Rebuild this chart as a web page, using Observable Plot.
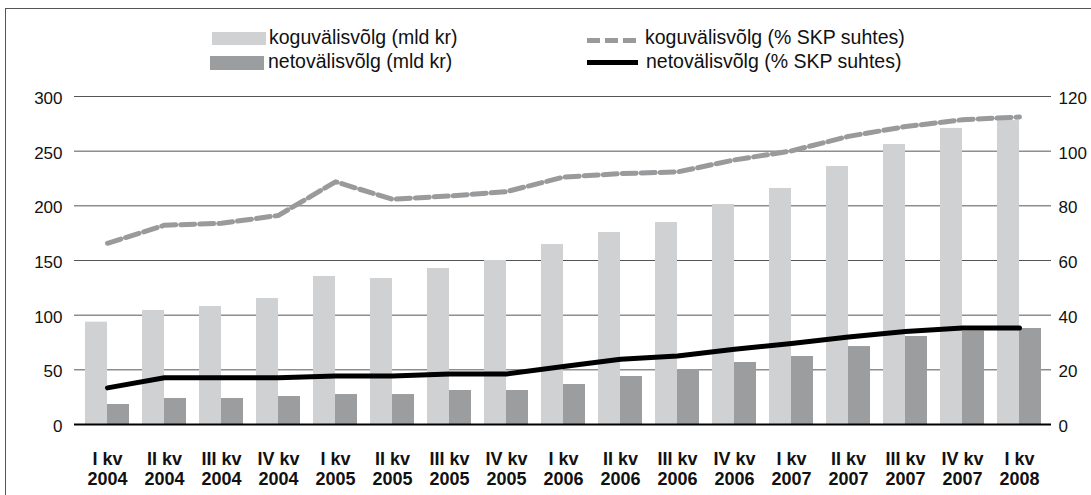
<!DOCTYPE html>
<html>
<head>
<meta charset="utf-8">
<script src="https://cdn.jsdelivr.net/npm/d3@7"></script>
<script src="https://cdn.jsdelivr.net/npm/@observablehq/plot@0.6"></script>
<style>
  html, body { margin: 0; padding: 0; background: #fff; overflow: hidden; }
  body { width: 1091px; height: 495px; position: relative; font-family: "Liberation Sans", Arial, sans-serif; }
  #frame { position: absolute; left: 5px; top: 8px; width: 1200px; height: 600px; border-left: 1.5px solid #555; border-top: 1.5px solid #555; }
  #chart { position: absolute; left: 0; top: 0; }
  .leg { position: absolute; font-size: 19.5px; color: #111; line-height: 1; white-space: nowrap; }
  .sw { position: absolute; }
</style>
</head>
<body>
<div id="frame"></div>
<div id="chart"></div>
<div class="sw" style="left:212px;top:32px;width:54px;height:13px;background:#d0d1d3"></div>
<div class="leg" style="left:269px;top:28px">koguvälisvõlg (mld kr)</div>
<div class="sw" style="left:210px;top:56px;width:54px;height:14px;background:#9c9d9f"></div>
<div class="leg" style="left:268px;top:52px">netovälisvõlg (mld kr)</div>
<div class="sw" style="left:587px;top:37.5px;width:49px;height:5px;background:repeating-linear-gradient(90deg,#999a9c 0 13px,transparent 13px 18px)"></div>
<div class="leg" style="left:645px;top:28px">koguvälisvõlg (% SKP suhtes)</div>
<div class="sw" style="left:587px;top:60px;width:51px;height:5px;background:#000"></div>
<div class="leg" style="left:646px;top:52px">netovälisvõlg (% SKP suhtes)</div>
<script>
const quarters = ["I kv","II kv","III kv","IV kv","I kv","II kv","III kv","IV kv","I kv","II kv","III kv","IV kv","I kv","II kv","III kv","IV kv","I kv"];
const years = ["2004","2004","2004","2004","2005","2005","2005","2005","2006","2006","2006","2006","2007","2007","2007","2007","2008"];
const koguMld = [93.6,104.3,107.9,115.2,135.4,133.5,142.7,150,164.6,175.6,184.7,201.2,215.9,236,256.1,270.8,278];
const netoMld = [18.3,23.8,23.8,25.6,27.4,27.4,31.1,31.1,36.6,43.9,50.3,56.7,62.2,71.3,80.5,85.3,87.8];
const koguPct = [66.3,72.9,73.6,76.5,88.8,82.4,83.6,85.2,90.5,91.8,92.4,96.8,100.1,105.4,109,111.5,112.5];
const netoPct = [13.4,17.1,17.1,17.1,17.7,17.7,18.5,18.5,21.2,23.9,25.1,27.5,29.6,32,34,35.3,35.3];
const leftTicks = [0,50,100,150,200,250,300];
const rightTicks = [0,20,40,60,80,100,120];

const ratio = 300 / 120;
const cats = quarters.map((q, i) => q + "\n" + years[i]);
const rows = cats.map((c, i) => ({c, kogu: koguMld[i], neto: netoMld[i], koguP: koguPct[i] * ratio, netoP: netoPct[i] * ratio}));

const chart = Plot.plot({
  width: 1091,
  height: 495,
  marginLeft: 74,
  marginRight: 40,
  marginTop: 96,
  marginBottom: 71,
  style: {fontFamily: "'Liberation Sans', Arial, sans-serif", background: "transparent", color: "#111"},
  x: {type: "band", domain: cats, paddingInner: 0.234, paddingOuter: 0.117, axis: null, label: null},
  y: {domain: [0, 300], axis: null, label: null},
  marks: [
    Plot.ruleY(leftTicks.filter(d => d > 0), {stroke: "#555", strokeWidth: 1}),
    Plot.barY(rows, {x: "c", y: "kogu", fill: "#d0d1d3", insetRight: 22}),
    Plot.barY(rows, {x: "c", y: "neto", fill: "#9c9d9f", insetLeft: 22}),
    Plot.ruleY([0], {stroke: "#000", strokeWidth: 2}),
    Plot.lineY(rows, {x: "c", y: "koguP", stroke: "#999a9c", strokeWidth: 5, strokeDasharray: "14,5"}),
    Plot.lineY(rows, {x: "c", y: "netoP", stroke: "#000", strokeWidth: 5}),
    Plot.axisY(leftTicks, {anchor: "left", tickSize: 0, tickPadding: 12, fontSize: 17, dy: 2, label: null}),
    Plot.axisY(rightTicks.map(d => d * ratio), {anchor: "right", tickSize: 0, tickPadding: 7, fontSize: 17, dy: 2, label: null, tickFormat: d => Math.round(d / ratio)}),
    Plot.axisX(cats, {anchor: "bottom", tickSize: 0, tickPadding: 26, fontSize: 18, fontWeight: "bold", lineHeight: 1.12, label: null})
  ]
});
document.getElementById("chart").appendChild(chart);
</script>
</body>
</html>
